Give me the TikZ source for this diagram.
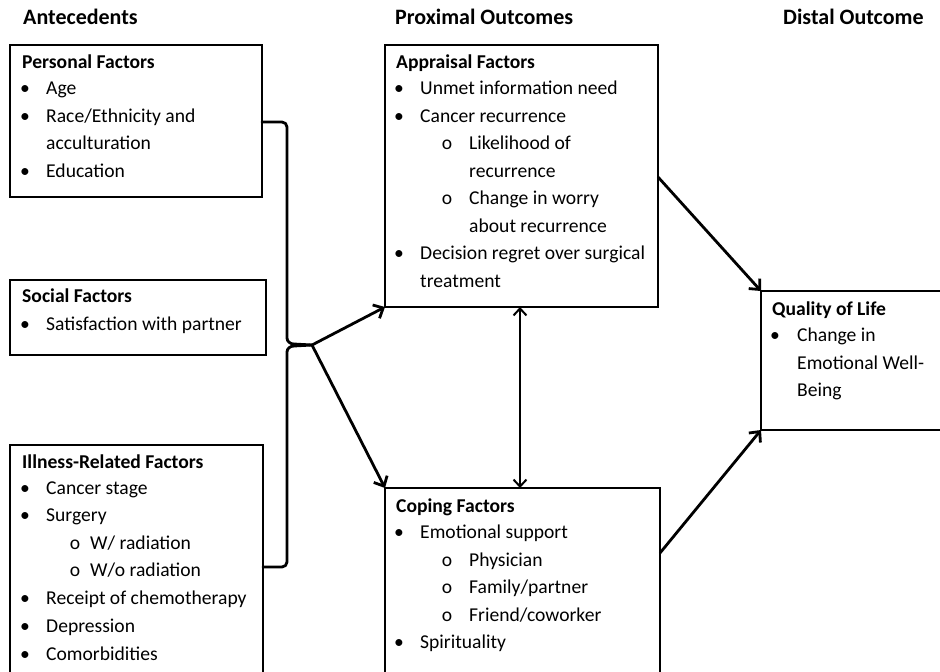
\documentclass[tikz,border=0pt]{standalone}
\usepackage{fontspec}
\setmainfont{Carlito}
\usetikzlibrary{arrows.meta}
\tikzset{
  box/.style={draw, line width=1.3pt, inner sep=0pt, outer sep=0pt, anchor=north west},
  txt/.style={anchor=base west, inner sep=0pt, font=\fontsize{19.6}{22}\selectfont},
  hd/.style={anchor=base west, inner sep=0pt, font=\fontsize{19.6}{22}\selectfont\bfseries},
  ttl/.style={anchor=base west, inner sep=0pt, font=\fontsize{22}{24}\selectfont\bfseries},
  bul/.style={anchor=base, inner sep=0pt, font=\fontsize{19.6}{22}\selectfont},
  conn/.style={line width=2.8pt, -{Straight Barb[length=8pt,width=15pt]}},
  dbl/.style={line width=2pt, {Straight Barb[length=7pt,width=13pt]}-{Straight Barb[length=7pt,width=13pt]}},
  brace/.style={line width=2.8pt, line cap=round, line join=round}
}
\begin{document}
\begin{tikzpicture}[x=1pt,y=-1pt]
\useasboundingbox (0,0) rectangle (940,672);
% titles
\node[ttl] (tA) at (23,24.5) {Antecedents};
\node[ttl] (tP) at (395,24.5) {Proximal Outcomes};
\node[ttl] (tD) at (783,24.5) {Distal Outcome};
% boxes
\node[box, minimum width=252pt, minimum height=152pt] (personal) at (10,45) {};
\node[box, minimum width=256pt, minimum height=75pt] (social) at (10,280) {};
\draw[line width=1.3pt] (10,690) -- (10,445) -- (263,445) -- (263,690);
\coordinate (illnessTL) at (10,445);
\node[box, minimum width=273pt, minimum height=262pt] (appraisal) at (385,45) {};
\draw[line width=1.3pt] (385,690) -- (385,488) -- (660,488) -- (660,690);
\coordinate (copingTL) at (385,488);
\draw[line width=1.3pt] (960,291) -- (761,291) -- (761,430) -- (960,430);
\coordinate (qolTL) at (761,291);
\coordinate (qolBL) at (761,430);
% personal
\node[hd] (p0) at (22,68.5) {Personal Factors};
\node[bul] (pb1) at (25,94.5) {•};  \node[txt] (p1) at (46,94.5) {Age};
\node[bul] (pb2) at (25,122) {•};   \node[txt] (p2) at (46,122) {Race/Ethnicity and};
\node[txt] (p3) at (46,149.5) {acculturation};
\node[bul] (pb4) at (25,177) {•};   \node[txt] (p4) at (46,177) {Education};
% social
\node[hd] (s0) at (22,302.3) {Social Factors};
\node[bul] (sb1) at (25,330) {•};   \node[txt] (s1) at (46,330) {Satisfaction with partner};
% illness
\node[hd] (i0) at (22,468.3) {Illness-Related Factors};
\node[bul] (ib1) at (25,494) {•};   \node[txt] (i1) at (46,494) {Cancer stage};
\node[bul] (ib2) at (25,521.5) {•}; \node[txt] (i2) at (46,521.5) {Surgery};
\node[bul] (ib3) at (75,549) {o};   \node[txt] (i3) at (90,549) {W/ radiation};
\node[bul] (ib4) at (75,576.5) {o}; \node[txt] (i4) at (90,576.5) {W/o radiation};
\node[bul] (ib5) at (25,604) {•};   \node[txt] (i5) at (46,604) {Receipt of chemotherapy};
\node[bul] (ib6) at (25,632) {•};   \node[txt] (i6) at (46,632) {Depression};
\node[bul] (ib7) at (25,660) {•};   \node[txt] (i7) at (46,660) {Comorbidities};
% appraisal
\node[hd] (a0) at (396,68.5) {Appraisal Factors};
\node[bul] (ab1) at (399,94.5) {•};  \node[txt] (a1) at (420,94.5) {Unmet information need};
\node[bul] (ab2) at (399,122) {•};   \node[txt] (a2) at (420,122) {Cancer recurrence};
\node[bul] (ab3) at (447,149.5) {o}; \node[txt] (a3) at (469,149.5) {Likelihood of};
\node[txt] (a4) at (469,177) {recurrence};
\node[bul] (ab5) at (447,204.5) {o}; \node[txt] (a5) at (469,204.5) {Change in worry};
\node[txt] (a6) at (469,232) {about recurrence};
\node[bul] (ab7) at (399,259.5) {•}; \node[txt] (a7) at (420,259.5) {Decision regret over surgical};
\node[txt] (a8) at (420,287) {treatment};
% coping
\node[hd] (c0) at (396,512.3) {Coping Factors};
\node[bul] (cb1) at (399,538.3) {•}; \node[txt] (c1) at (420,538.3) {Emotional support};
\node[bul] (cb2) at (447,566) {o};   \node[txt] (c2) at (469,566) {Physician};
\node[bul] (cb3) at (447,593.7) {o}; \node[txt] (c3) at (469,593.7) {Family/partner};
\node[bul] (cb4) at (447,621) {o};   \node[txt] (c4) at (469,621) {Friend/coworker};
\node[bul] (cb5) at (399,648.7) {•}; \node[txt] (c5) at (420,648.7) {Spirituality};
% quality of life
\node[hd] (q0) at (772,315) {Quality of Life};
\node[bul] (qb1) at (775,341.7) {•}; \node[txt] (q1) at (797,341.7) {Change in};
\node[txt] (q2) at (797,369) {Emotional Well-};
\node[txt] (q3) at (797,396.7) {Being};
% brace
\coordinate (tip) at (312,345);
\draw[brace] (personal.east |- 0,122) -- (282,122) to[out=0,in=90] (287,127) -- (287,338)
   to[out=-90,in=180] (294,344) -- (tip);
\draw[brace] (tip) -- (294,346) to[out=180,in=90] (287,352) -- (287,562)
   to[out=-90,in=0] (282,567) -- (263,567);
% connectors
\draw[conn] (tip) -- (appraisal.south west);
\draw[conn] (tip) -- (copingTL);
\draw[conn] (appraisal.east |- 0,177) -- (qolTL);
\draw[conn] (660,553) -- (qolBL);
\draw[dbl] (520,307) -- (520,488);
\end{tikzpicture}
\end{document}
